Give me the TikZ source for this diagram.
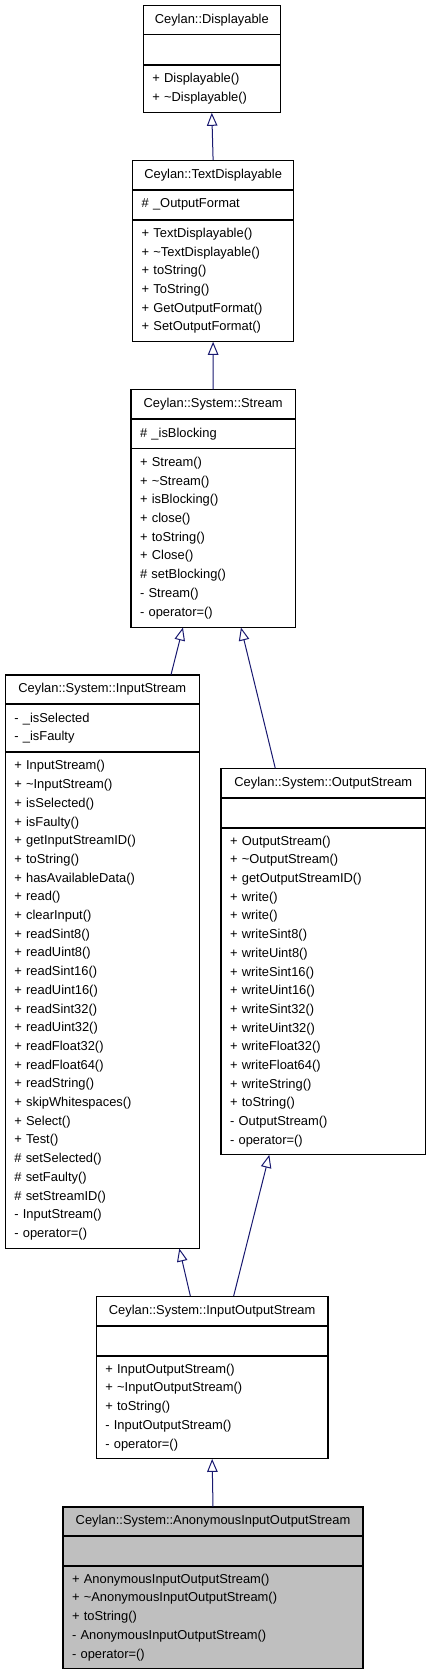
\documentclass[tikz,border=0pt]{standalone}
\usepackage{fontspec}
\setmainfont{Liberation Sans}
\usetikzlibrary{arrows.meta}
\definecolor{edgeblue}{RGB}{25,25,112}
\definecolor{hilite}{RGB}{191,191,191}
\def\classfont{\fontsize{12.9}{18.7}\selectfont}
\tikzset{
	classhead/.style={draw=black, line width=1.2pt, outer sep=0.3pt, fill=white, anchor=north west, inner xsep=9pt, inner ysep=0pt, align=center, font=\classfont},
	classbody/.style={classhead, align=left},
	inherit/.style={draw=edgeblue, line width=1pt, -{Triangle[open, length=13pt, width=10.5pt]}}
}

\begin{document}
\begin{tikzpicture}[x=1pt, y=-1pt]
				%%%%% START %%%%%
				\useasboundingbox (0, 0) rectangle (429, 1675);
				
				\node[classhead, minimum width=137pt, text width=119pt, minimum height=29pt] (disp-title) at (143, 5) {Ceylan::Displayable};
				\node[classbody, minimum width=137pt, text width=119pt, minimum height=29.5pt] (disp-attr) at (disp-title.south west) {};
				\node[classbody, minimum width=137pt, text width=119pt, minimum height=47.5pt] (disp-ops) at (disp-attr.south west) {+ Displayable()\\+ \textasciitilde Displayable()};
				
				\node[classhead, minimum width=161pt, text width=143pt, minimum height=29pt] (textdisp-title) at (132.3, 160) {Ceylan::TextDisplayable};
				\node[classbody, minimum width=161pt, text width=143pt, minimum height=29.5pt] (textdisp-attr) at (textdisp-title.south west) {\# \_OutputFormat};
				\node[classbody, minimum width=161pt, text width=143pt, minimum height=121.5pt] (textdisp-ops) at (textdisp-attr.south west) {+ TextDisplayable()\\+ \textasciitilde TextDisplayable()\\+ toString()\\+ ToString()\\+ GetOutputFormat()\\+ SetOutputFormat()};
				
				\node[classhead, minimum width=164.3pt, text width=146.3pt, minimum height=29.4pt] (stream-title) at (130.7, 389.3) {Ceylan::System::Stream};
				\node[classbody, minimum width=164.3pt, text width=146.3pt, minimum height=28.5pt] (stream-attr) at (stream-title.south west) {\# \_isBlocking};
				\node[classbody, minimum width=164.3pt, text width=146.3pt, minimum height=178.5pt] (stream-ops) at (stream-attr.south west) {+ Stream()\\+ \textasciitilde Stream()\\+ isBlocking()\\+ close()\\+ toString()\\+ Close()\\\# setBlocking()\\- Stream()\\- operator=()};
				
				\node[classhead, minimum width=194pt, text width=176pt, minimum height=28.6pt] (instream-title) at (5, 674.7) {Ceylan::System::InputStream};
				\node[classbody, minimum width=194pt, text width=176pt, minimum height=47.7pt] (instream-attr) at (instream-title.south west) {- \_isSelected\\- \_isFaulty};
				\node[classbody, minimum width=194pt, text width=176pt, minimum height=495.7pt] (instream-ops) at (instream-attr.south west) {+ InputStream()\\+ \textasciitilde InputStream()\\+ isSelected()\\+ isFaulty()\\+ getInputStreamID()\\+ toString()\\+ hasAvailableData()\\+ read()\\+ clearInput()\\+ readSint8()\\+ readUint8()\\+ readSint16()\\+ readUint16()\\+ readSint32()\\+ readUint32()\\+ readFloat32()\\+ readFloat64()\\+ readString()\\+ skipWhitespaces()\\+ Select()\\+ Test()\\\# setSelected()\\\# setFaulty()\\\# setStreamID()\\- InputStream()\\- operator=()};
				
				\node[classhead, minimum width=204.6pt, text width=186.6pt, minimum height=29pt] (outstream-title) at (220.7, 768.3) {Ceylan::System::OutputStream};
				\node[classbody, minimum width=204.6pt, text width=186.6pt, minimum height=29.5pt] (outstream-attr) at (outstream-title.south west) {};
				\node[classbody, minimum width=204.6pt, text width=186.6pt, minimum height=326.2pt] (outstream-ops) at (outstream-attr.south west) {+ OutputStream()\\+ \textasciitilde OutputStream()\\+ getOutputStreamID()\\+ write()\\+ write()\\+ writeSint8()\\+ writeUint8()\\+ writeSint16()\\+ writeUint16()\\+ writeSint32()\\+ writeUint32()\\+ writeFloat32()\\+ writeFloat64()\\+ writeString()\\+ toString()\\- OutputStream()\\- operator=()};
				
				\node[classhead, minimum width=231.7pt, text width=213.7pt, minimum height=29.3pt] (iostream-title) at (96, 1296) {Ceylan::System::InputOutputStream};
				\node[classbody, minimum width=231.7pt, text width=213.7pt, minimum height=29.1pt] (iostream-attr) at (iostream-title.south west) {};
				\node[classbody, minimum width=231.7pt, text width=213.7pt, minimum height=102.7pt] (iostream-ops) at (iostream-attr.south west) {+ InputOutputStream()\\+ \textasciitilde InputOutputStream()\\+ toString()\\- InputOutputStream()\\- operator=()};
				
				\node[classhead, fill=hilite, minimum width=300pt, text width=282pt, minimum height=29pt] (anon-title) at (62.7, 1506.7) {Ceylan::System::AnonymousInputOutputStream};
				\node[classbody, fill=hilite, minimum width=300pt, text width=282pt, minimum height=28.7pt] (anon-attr) at (anon-title.south west) {};
				\node[classbody, fill=hilite, minimum width=300pt, text width=282pt, minimum height=102.7pt] (anon-ops) at (anon-attr.south west) {+ AnonymousInputOutputStream()\\+ \textasciitilde AnonymousInputOutputStream()\\+ toString()\\- AnonymousInputOutputStream()\\- operator=()};
				
				\draw[inherit] (textdisp-title.north) -- (disp-ops.south);
				\draw[inherit] (stream-title.north) -- (textdisp-ops.south);
				\draw[inherit] ([xshift=68.7pt]instream-title.north) -- ([xshift=-30.2pt]stream-ops.south);
				\draw[inherit] ([xshift=-48pt]outstream-title.north) -- ([xshift=27.8pt]stream-ops.south);
				\draw[inherit] ([xshift=-21.8pt]iostream-title.north) -- ([xshift=77pt]instream-ops.south);
				\draw[inherit] ([xshift=21.5pt]iostream-title.north) -- ([xshift=-54pt]outstream-ops.south);
				\draw[inherit] (anon-title.north) -- (iostream-ops.south);
				%%%%% END %%%%%
			\end{tikzpicture}
\end{document}
